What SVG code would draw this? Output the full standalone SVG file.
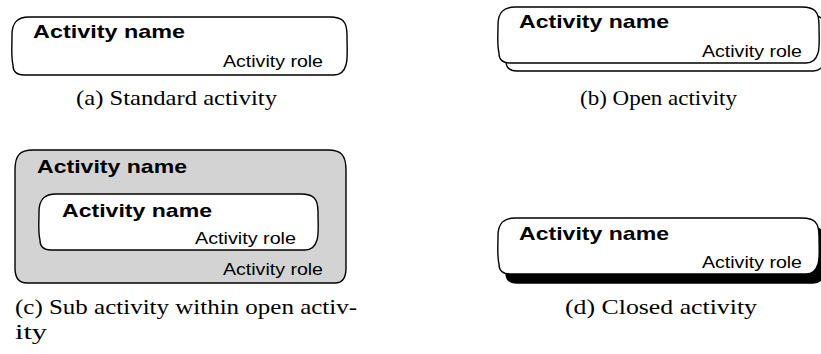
<svg xmlns="http://www.w3.org/2000/svg" width="821" height="354" viewBox="0 0 821 354">
  <style>
    .box { fill: #fff; stroke: #000; stroke-width: 1.4; }
    .grey { fill: #d3d3d3; }
    .shadow-open { fill: #fff; stroke: #000; stroke-width: 1.4; }
    .shadow-closed { fill: #000; stroke: #000; stroke-width: 1.4; }
    .name { font-family: "Liberation Sans", Arial, sans-serif; font-weight: bold; font-size: 19px; fill: #000; }
    .role { font-family: "Liberation Sans", Arial, sans-serif; font-size: 16px; fill: #000; }
    .cap { font-family: "Liberation Serif", "Times New Roman", serif; font-size: 21px; fill: #000; }
  </style>
  <defs>
    <!-- activity outline: bowed sides, wide top corners, tighter bottom corners -->
    <path id="act-wide" d="M17,0 H318 C330,0 335,4 335,18 C335,32 336,42 334,48 C332,55 328,58 322,58 H12 C5,58 1,55 1,48 C-1,40 0,30 0,18 C0,5 6,0 17,0 Z"/>
    <path id="act-std" d="M17,0 H304 C316,0 321,4 321,18 C321,30 322,40 320,46 C318,53 314,56 308,56 H12 C5,56 1,53 1,46 C-1,38 0,30 0,18 C0,5 6,0 17,0 Z"/>
    <path id="act-inner" d="M17,0 H262 C274,0 279,4 279,18 C279,30 280,40 278,46 C276,53 272,56 266,56 H12 C5,56 1,53 1,46 C-1,38 0,30 0,18 C0,5 6,0 17,0 Z"/>
    <path id="act-outer" d="M18,0 H313 C326,0 331,5 331,20 V118 C331,128 328,133 320,133 H12 C4,133 0,128 0,118 V20 C0,5 5,0 18,0 Z"/>
  </defs>

  <!-- (a) standard activity -->
  <g id="standard-activity">
    <use href="#act-wide" class="box" x="12" y="17"/>
    <text class="name" x="33" y="38" textLength="152" lengthAdjust="spacingAndGlyphs">Activity name</text>
    <text class="role" x="223" y="67" textLength="100" lengthAdjust="spacingAndGlyphs">Activity role</text>
  </g>
  <text class="cap" x="76" y="105" textLength="201" lengthAdjust="spacingAndGlyphs">(a) Standard activity</text>

  <!-- (b) open activity: outlined copy set behind -->
  <g id="open-activity">
    <use href="#act-std" class="shadow-open" x="505" y="15"/>
    <use href="#act-std" class="box" x="498" y="7"/>
    <text class="name" x="519" y="28" textLength="150" lengthAdjust="spacingAndGlyphs">Activity name</text>
    <text class="role" x="702" y="57" textLength="100" lengthAdjust="spacingAndGlyphs">Activity role</text>
  </g>
  <text class="cap" x="580" y="105" textLength="157" lengthAdjust="spacingAndGlyphs">(b) Open activity</text>

  <!-- (c) sub activity inside an open activity -->
  <g id="open-parent">
    <use href="#act-outer" class="box grey" x="15" y="150"/>
    <text class="name" x="37" y="173" textLength="150" lengthAdjust="spacingAndGlyphs">Activity name</text>
    <text class="role" x="223" y="275" textLength="100" lengthAdjust="spacingAndGlyphs">Activity role</text>
  </g>
  <g id="sub-activity">
    <use href="#act-inner" class="box" x="39" y="194"/>
    <text class="name" x="62" y="217" textLength="150" lengthAdjust="spacingAndGlyphs">Activity name</text>
    <text class="role" x="195" y="244" textLength="101" lengthAdjust="spacingAndGlyphs">Activity role</text>
  </g>
  <text class="cap" x="15" y="314" textLength="342" lengthAdjust="spacingAndGlyphs">(c) Sub activity within open activ-</text>
  <text class="cap" x="15" y="339" textLength="32" lengthAdjust="spacingAndGlyphs">ity</text>

  <!-- (d) closed activity: solid copy set behind -->
  <g id="closed-activity">
    <use href="#act-std" class="shadow-closed" x="505" y="227"/>
    <use href="#act-std" class="box" x="498" y="218"/>
    <text class="name" x="519" y="240" textLength="150" lengthAdjust="spacingAndGlyphs">Activity name</text>
    <text class="role" x="702" y="268" textLength="100" lengthAdjust="spacingAndGlyphs">Activity role</text>
  </g>
  <text class="cap" x="565" y="314" textLength="192" lengthAdjust="spacingAndGlyphs">(d) Closed activity</text>
</svg>
